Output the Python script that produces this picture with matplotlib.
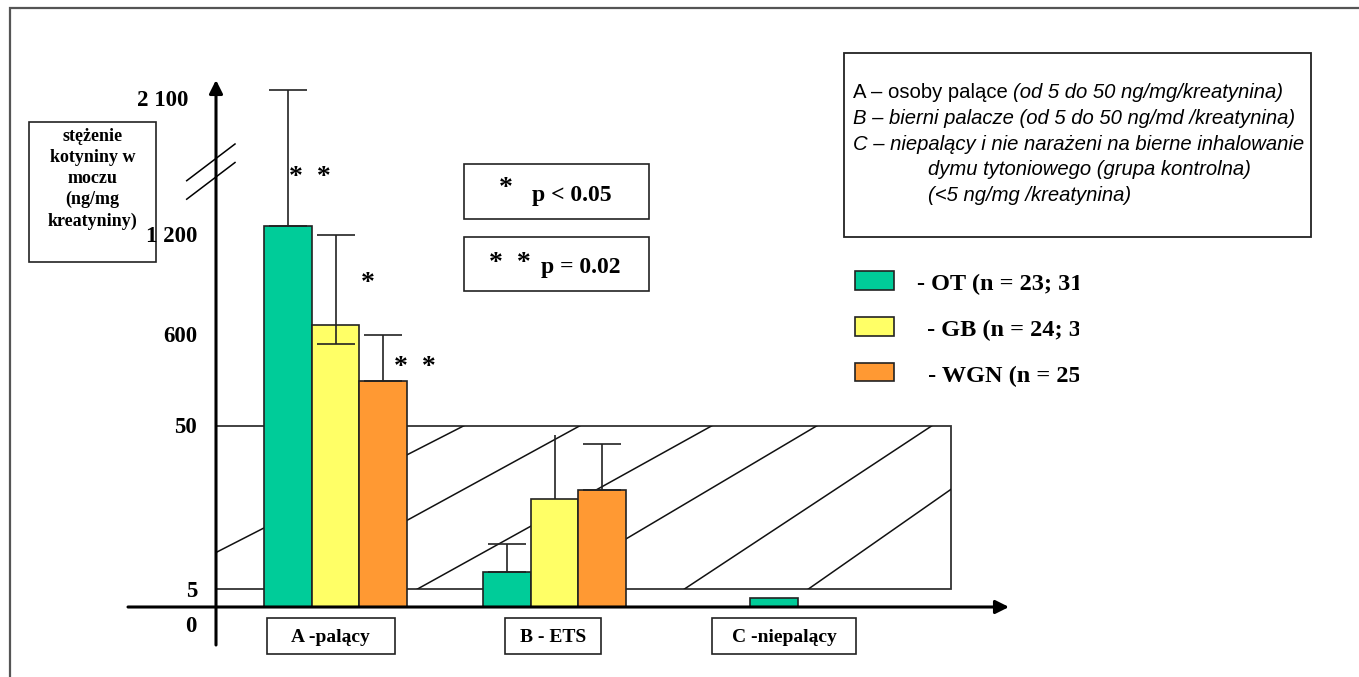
import numpy as np
import matplotlib
matplotlib.use("Agg")
import matplotlib.pyplot as plt
from matplotlib.patches import Rectangle
from matplotlib.transforms import Affine2D

# data (ng/mg creatinine)
groups = ["A -palący", "B - ETS", "C -niepalący"]
series = ["OT", "GB", "WGN"]
legend_labels = ["- OT (n = 23; 31)", " - GB (n = 24; 31)", " - WGN (n = 25)"]
ot = [1259, 9.8, 2.5]
gb = [655, 29.8, np.nan]
wgn = [320, 32.4, np.nan]
ot_err = [894, 7.7, 0]
gb_err = [545, 17.6, 0]
wgn_err = [274, 12.6, 0]
gb_err_low = [115, 0, 0]
ot_cap = [True, True, False]
gb_cap = [True, False, False]
wgn_cap = [True, True, False]
tick_values = [0, 5, 50, 600, 1200, 2100]
tick_labels = ["0", "5", "50", "600", "1 200", "2 100"]
band = (5, 50)  # reference range drawn as the hatched box

colors = ["#00CC99", "#FFFF66", "#FF9933"]

# broken axis: piecewise linear mapping value -> pixel height above the x axis
scale_vals = np.array([0, 5, 50, 600, 1200, 2100], float)
scale_px = np.array([0, 17.7, 181.3, 273, 372, 509], float)


def fwd(v):
    v = np.asarray(v, float)
    h = np.interp(v, scale_vals, scale_px)
    lo = (scale_px[1] - scale_px[0]) / (scale_vals[1] - scale_vals[0])
    hi = (scale_px[-1] - scale_px[-2]) / (scale_vals[-1] - scale_vals[-2])
    h = np.where(v < scale_vals[0], v * lo, h)
    h = np.where(v > scale_vals[-1], scale_px[-1] + (v - scale_vals[-1]) * hi, h)
    return h


def inv(h):
    h = np.asarray(h, float)
    v = np.interp(h, scale_px, scale_vals)
    lo = (scale_vals[1] - scale_vals[0]) / (scale_px[1] - scale_px[0])
    hi = (scale_vals[-1] - scale_vals[-2]) / (scale_px[-1] - scale_px[-2])
    v = np.where(h < scale_px[0], h * lo, v)
    v = np.where(h > scale_px[-1], scale_vals[-1] + (h - scale_px[-1]) * hi, v)
    return v


W, H = 1359, 677
AXIS_Y = 607  # pixel row of the x axis

fig = plt.figure(figsize=(W / 100, H / 100), dpi=100)
ax = fig.add_axes([0, 0, 1, 1])
ax.set_yscale("function", functions=(fwd, inv))
ax.set_xlim(0, W)
ax.set_ylim(float(inv(AXIS_Y - H)), float(inv(AXIS_Y)))
ax.axis("off")

# pixel coordinates with origin top-left for the layout items
T = Affine2D().scale(1 / W, -1 / H).translate(0, 1) + fig.transFigure

serif = "Liberation Serif"
sans = "Liberation Sans"
edge = "#222222"

# hatched reference band between 5 and 50
y_ax_x = 216
band_rect = Rectangle((y_ax_x, band[0]), 950.7 - y_ax_x, band[1] - band[0],
                      fill=False, edgecolor="#333333", lw=1.3, zorder=2)
ax.add_patch(band_rect)
hatch_bottom_x = [144, 281, 417, 541, 684, 808]
hatch_top_x = [464, 580, 712, 817, 932, 1042]
for xb, xt in zip(hatch_bottom_x, hatch_top_x):
    ln, = ax.plot([xb, xt], band, color="#111111", lw=1.1, zorder=2)
    ln.set_clip_path(band_rect)

# bars
group_x = np.array([335.5, 554.5, 821.5])
bw = 47.5
all_vals = [ot, gb, wgn]
all_err = [ot_err, gb_err, wgn_err]
all_low = [[0, 0, 0], gb_err_low, [0, 0, 0]]
all_cap = [ot_cap, gb_cap, wgn_cap]
for i, (vals, errs, lows, caps) in enumerate(zip(all_vals, all_err, all_low, all_cap)):
    xs = group_x + (i - 1) * bw
    ax.bar(xs, vals, width=bw, color=colors[i], edgecolor=edge, lw=1.2, zorder=3)
    for x, v, e, lo, c in zip(xs, vals, errs, lows, caps):
        if np.isnan(v) or e == 0:
            continue
        ax.errorbar([x], [v], yerr=[[lo], [e]], fmt="none", ecolor=edge,
                    elinewidth=1.2, capsize=14 if c else 0, capthick=1.2, zorder=4)

# axes drawn as arrows
arrow = dict(arrowstyle="-|>", lw=2.2, color="black", mutation_scale=20,
             shrinkA=0, shrinkB=0)
ax.annotate("", xy=(y_ax_x, 80), xytext=(y_ax_x, 645), xycoords=T, arrowprops=arrow)
ax.annotate("", xy=(1009, AXIS_Y), xytext=(128, AXIS_Y), xycoords=T, arrowprops=arrow)
# break marks on the y axis
for dy in (0, 18.5):
    ax.plot([186.7, 235], [180.7 + dy, 144 + dy], color="black", lw=1.1, transform=T)

# tick labels
for v, lab in zip(tick_values, tick_labels):
    off = -20 if v == 0 else -2
    xr = 188 if v == 2100 else 197
    ax.annotate(lab, xy=(xr, v), xytext=(0, off), textcoords="offset pixels",
                ha="right", va="center", fontsize=16.5, fontweight="bold", family=serif)

# y label box
ax.add_patch(Rectangle((29, 122), 127.3, 140, transform=T, fill=False,
                       edgecolor=edge, lw=1.2))
ax.text(92.5, 179, "stężenie\nkotyniny w\nmoczu\n(ng/mg\nkreatyniny)", transform=T,
        ha="center", va="center", fontsize=13, fontweight="bold", family=serif,
        linespacing=1.3)

# category label boxes
cat_box_x = [266.7, 504.7, 712]
cat_box_w = [128, 96.3, 144]
for lab, bx, w in zip(groups, cat_box_x, cat_box_w):
    ax.add_patch(Rectangle((bx, 618), w, 36, transform=T, fill=False,
                           edgecolor=edge, lw=1.2))
    ax.text(bx + w / 2, 637, lab, transform=T, ha="center", va="center",
            fontsize=14, fontweight="bold", family=serif)

# significance stars
star_kw = dict(transform=T, ha="center", va="baseline", fontsize=20,
               fontweight="bold", family=serif)
ax.text(310, 184, "*  *", **star_kw)
ax.text(368, 290, "*", **star_kw)
ax.text(415, 374, "*  *", **star_kw)

# p-value boxes
for top in (164, 236.7):
    ax.add_patch(Rectangle((464.3, top), 185, 54.5, transform=T, fill=False,
                           edgecolor=edge, lw=1.2))
ax.text(506, 195, "*", **star_kw)
ax.text(572, 200.5, "p < 0.05", transform=T, ha="center", va="baseline",
        fontsize=17, fontweight="bold", family=serif)
ax.text(510, 270, "*  *", **star_kw)
ax.text(581, 273, "p = 0.02", transform=T, ha="center", va="baseline",
        fontsize=17, fontweight="bold", family=serif)

# description box
ax.add_patch(Rectangle((844.3, 53.3), 466.7, 184, transform=T, fill=False,
                       edgecolor=edge, lw=1.3))
t1 = ax.text(852.7, 98.3, "A – osoby palące ", transform=T, ha="left",
             va="baseline", fontsize=14.6, family=sans)
ax.annotate("(od 5 do 50 ng/mg/kreatynina)", xy=(1, 0), xycoords=t1,
            ha="left", va="bottom", fontsize=14.6, family=sans, style="italic")
desc_lines = ["B – bierni palacze (od 5 do 50 ng/md /kreatynina)",
              "C – niepalący i nie narażeni na bierne inhalowanie",
              "dymu tytoniowego (grupa kontrolna)",
              "(<5 ng/mg /kreatynina)"]
desc_x = [852.7, 852.7, 928.3, 928.3]
desc_y = [124, 149.6, 175.2, 200.8]
for s, x, y in zip(desc_lines, desc_x, desc_y):
    ax.text(x, y, s, transform=T, ha="left", va="baseline", fontsize=14.6,
            family=sans, style="italic")

# legend
leg_y = [271, 317.3, 362.7]
leg_tx = [917.3, 921, 922]
for i, lab in enumerate(legend_labels):
    ax.add_patch(Rectangle((855, leg_y[i]), 39, 18.5, transform=T,
                           facecolor=colors[i], edgecolor=edge, lw=1.2))
    ax.text(leg_tx[i], leg_y[i] + 19, lab, transform=T,
            ha="left", va="baseline", fontsize=17.5, fontweight="bold",
            family=serif, zorder=5)
# the source cuts the legend text off on the right
ax.add_patch(Rectangle((1079, 258), 160, 135, transform=T, facecolor="white",
                       edgecolor="none", zorder=6))

# outer frame
ax.plot([10, 10, W], [H, 8, 8], color="#555555", lw=1.6, transform=T,
        solid_joinstyle="miter")

fig.savefig("out.png", dpi=100)
